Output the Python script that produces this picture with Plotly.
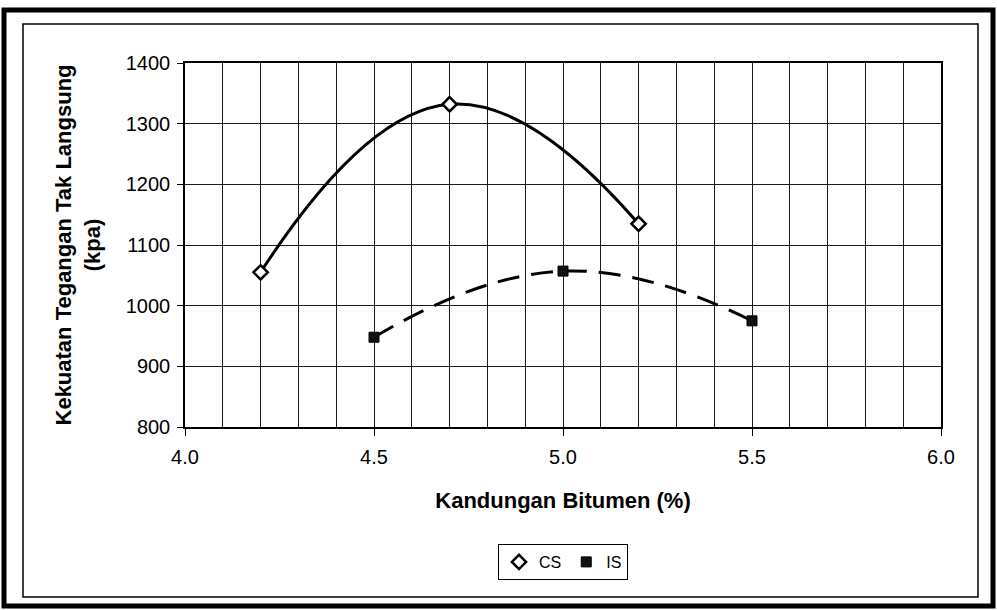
import plotly.graph_objects as go

# ---- data ----
cs_x = [4.2, 4.7, 5.2]
cs_y = [1055, 1332, 1135]
is_x = [4.5, 5.0, 5.5]
is_y = [948, 1057, 975]
series_names = ["CS", "IS"]
x_title = "Kandungan Bitumen (%)"
y_title = "Kekuatan Tegangan Tak Langsung<br>(kpa)"

FONT = "Liberation Sans, Arial, sans-serif"

fig = go.Figure()

# smoothed lines (not in legend)
fig.add_trace(go.Scatter(x=cs_x, y=cs_y, mode="lines", line=dict(color="black", width=3, shape="spline", smoothing=1.3),
                         showlegend=False, hoverinfo="skip"))
fig.add_trace(go.Scatter(x=is_x, y=is_y, mode="lines",
                         line=dict(color="black", width=3, shape="spline", smoothing=1.3, dash="22px,12px"),
                         showlegend=False, hoverinfo="skip"))
# markers (in legend)
fig.add_trace(go.Scatter(x=cs_x, y=cs_y, mode="markers", name=series_names[0],
                         marker=dict(symbol="diamond", size=11, color="white", line=dict(color="black", width=2.5))))
fig.add_trace(go.Scatter(x=is_x, y=is_y, mode="markers", name=series_names[1],
                         marker=dict(symbol="square", size=10, color="#111", line=dict(color="black", width=1))))

L, R, T, B = 185, 56, 63, 183
W, H = 997, 610
pw, ph = W - L - R, H - T - B

def px(x):
    return (x - L) / pw

def py(y):
    return (H - B - y) / ph

fig.update_layout(
    width=W, height=H,
    margin=dict(l=L, r=R, t=T, b=B, autoexpand=False),
    paper_bgcolor="white", plot_bgcolor="white",
    font=dict(family=FONT, size=20, color="black"),
    showlegend=True,
    legend=dict(orientation="h", x=0.5, xanchor="center", y=py(544), yanchor="top",
                bordercolor="black", borderwidth=1, bgcolor="white",
                font=dict(size=16, family=FONT), itemwidth=30, tracegroupgap=0),
    xaxis=dict(range=[4.0, 6.0], dtick=0.5, tick0=4.0, tickformat=".1f",
               showgrid=True, gridcolor="#1a1a1a", gridwidth=1.3,
               minor=dict(dtick=0.1, showgrid=True, gridcolor="#1a1a1a", gridwidth=1.3),
               ticks="outside", ticklen=7, tickcolor="black", tickwidth=1.3,
               showline=True, linecolor="black", linewidth=1.5, mirror=True,
               zeroline=False, tickfont=dict(size=20), ticklabelstandoff=4,
               title=dict(text="<b>" + x_title + "</b>", font=dict(size=22), standoff=26)),
    yaxis=dict(range=[800, 1400], dtick=100,
               showgrid=True, gridcolor="#1a1a1a", gridwidth=1.3,
               ticks="outside", ticklen=6, tickcolor="black", tickwidth=1.3,
               showline=True, linecolor="black", linewidth=1.5, mirror=True,
               zeroline=False, tickfont=dict(size=20), ticklabelstandoff=3,
               title=dict(text="<b>" + y_title + "</b>", font=dict(size=22), standoff=19)),
    shapes=[
        dict(type="rect", xref="paper", yref="paper", x0=px(23), x1=px(978), y0=py(24), y1=py(597),
             line=dict(color="black", width=1.5), layer="below"),
        dict(type="rect", xref="paper", yref="paper", x0=px(4), x1=px(993), y0=py(10), y1=py(606),
             line=dict(color="black", width=5), layer="below"),
    ],
)

fig.write_html("out.html", config={"displayModeBar": False},
               post_script="document.body.style.margin='0';document.body.style.padding='0';")
